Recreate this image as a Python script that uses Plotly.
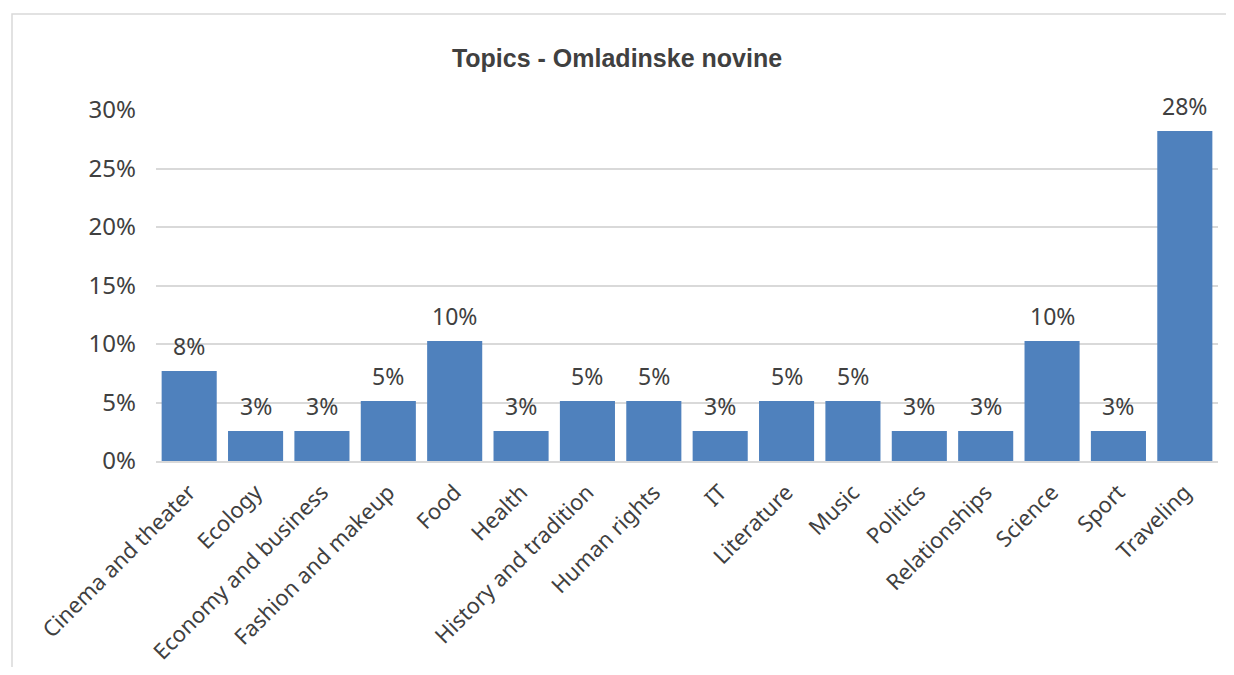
import plotly.graph_objects as go

categories = ["Cinema and theater", "Ecology", "Economy and business", "Fashion and makeup",
              "Food", "Health", "History and tradition", "Human rights", "IT", "Literature",
              "Music", "Politics", "Relationships", "Science", "Sport", "Traveling"]
shares = [0.0769, 0.0256, 0.0256, 0.0513, 0.1026, 0.0256, 0.0513, 0.0513, 0.0256, 0.0513,
          0.0513, 0.0256, 0.0256, 0.1026, 0.0256, 0.2821]
title_text = "Topics - Omladinske novine"
y_ticks = [0, 0.05, 0.10, 0.15, 0.20, 0.25, 0.30]
y_ticklabels = ["0%", "5%", "10%", "15%", "20%", "25%", "30%"]

TXT = "#404040"
FONT = "Noto Sans, Open Sans, sans-serif"

fig = go.Figure(go.Bar(
    x=categories, y=shares,
    marker=dict(color="#4F81BD", line=dict(width=0)),
    cliponaxis=False,
))

# data labels placed above each bar
annotations = [
    dict(x=c, y=v, xref="x", yref="y", text=f"{v*100:.0f}%", showarrow=False,
         yanchor="middle", yshift=25, font=dict(family=FONT, size=23, color=TXT))
    for c, v in zip(categories, shares)
]

# page has an 8px body margin; figure coordinates are offset accordingly
W, H = 1218, 659
L, T = 148, 102
R = W - 1210
B = H - 453
pw, ph = W - L - R, H - T - B

fig.update_layout(
    width=W, height=H,
    margin=dict(l=L, r=R, t=T, b=B),
    paper_bgcolor="white", plot_bgcolor="white",
    bargap=0.17,
    showlegend=False,
    annotations=annotations,
    title=dict(text=f"<b>{title_text}</b>", x=(617 - 8) / W, xref="container", xanchor="center",
               y=(H - 50) / H, yanchor="middle", yref="container",
               font=dict(family="Liberation Sans Narrow, Arial Narrow, Liberation Sans, sans-serif",
                         size=25, color=TXT)),
    xaxis=dict(tickangle=-45, tickfont=dict(family=FONT, size=22, color=TXT),
               showline=True, linecolor="#D9D9D9", linewidth=1.5, ticks="", showgrid=False,
               ticklabelstandoff=8, automargin=False),
    yaxis=dict(range=[0, 0.30], tickvals=y_ticks, ticktext=y_ticklabels,
               tickfont=dict(family=FONT, size=24, color=TXT),
               showgrid=True, gridcolor="#D9D9D9", gridwidth=1.5, zeroline=False,
               ticks="", ticklen=0, showline=False, ticklabelstandoff=19, automargin=False),
    shapes=[dict(type="rect", xref="paper", yref="paper",
                 x0=(4 - L) / pw, x1=(1400 - L) / pw,
                 y0=(H - B - 800) / ph, y1=(H - B - 6) / ph,
                 line=dict(color="#D9D9D9", width=1.5), fillcolor="rgba(0,0,0,0)", layer="below")],
)

fig.write_html("out.html")
